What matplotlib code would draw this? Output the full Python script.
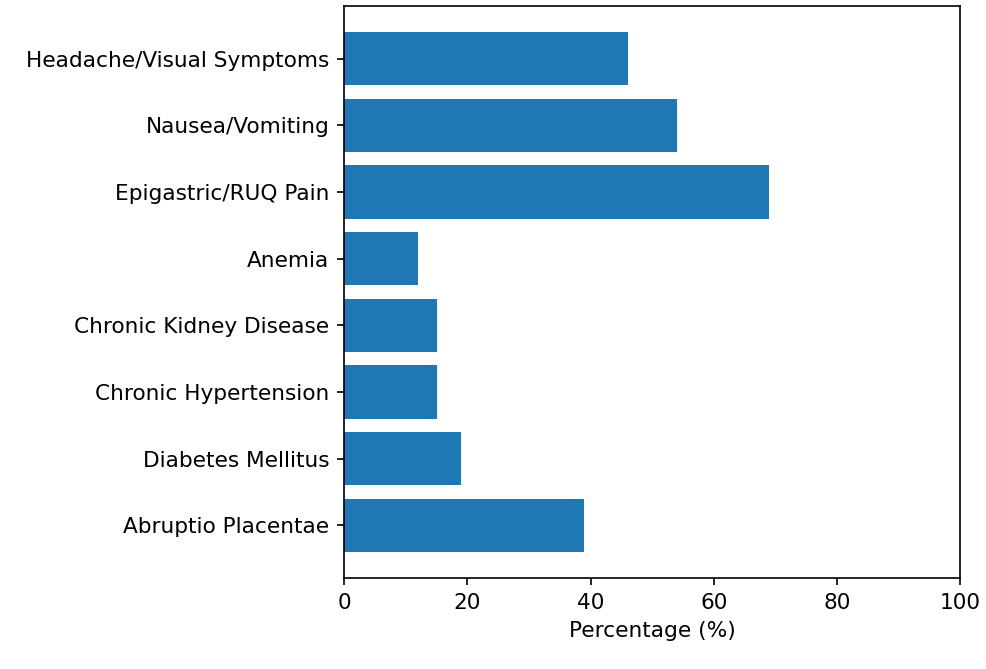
import matplotlib
matplotlib.use("Agg")
from matplotlib import pyplot as plt

# data (bottom to top)
conditions = ["Abruptio Placentae", "Diabetes Mellitus", "Chronic Hypertension",
              "Chronic Kidney Disease", "Anemia", "Epigastric/RUQ Pain",
              "Nausea/Vomiting", "Headache/Visual Symptoms"]
percentages = [39, 19, 15, 15, 12, 69, 54, 46]

plt.rcParams.update({'font.size': 10.4})
fig, ax = plt.subplots(figsize=(986 / 150, 669 / 150), dpi=150)
ax.barh(conditions, percentages, color="#1f77b4")
ax.set_xlim(0, 100)
ax.set_xlabel("Percentage (%)")
fig.subplots_adjust(left=0.349, right=0.974, top=0.991, bottom=0.136)
plt.savefig("out.png", dpi=150)
